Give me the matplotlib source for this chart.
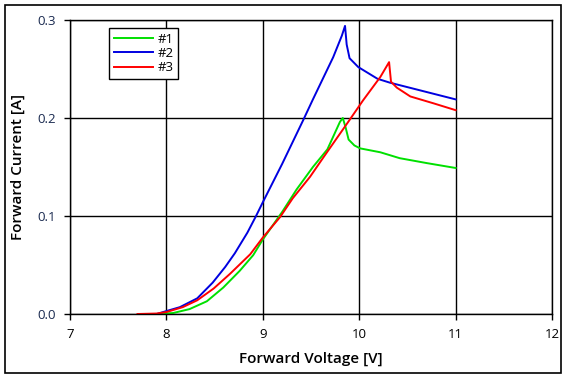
import matplotlib
matplotlib.use("Agg")
import matplotlib.pyplot as plt
from matplotlib.patches import Rectangle

plt.rcParams['font.family'] = ['Open Sans', 'DejaVu Sans']

# Series #1 (green)
v1 = [7.9, 8.07, 8.24, 8.42, 8.59, 8.76, 8.90, 9.0, 9.2, 9.35, 9.52, 9.67, 9.80, 9.83, 9.86, 9.89, 9.95, 10.01, 10.22, 10.42, 10.7, 11.0]
i1 = [0.0, 0.001, 0.005, 0.013, 0.027, 0.044, 0.060, 0.076, 0.104, 0.127, 0.150, 0.168, 0.196, 0.200, 0.190, 0.178, 0.172, 0.169, 0.165, 0.159, 0.154, 0.149]
# Series #2 (blue)
v2 = [7.9, 8.0, 8.14, 8.32, 8.48, 8.61, 8.71, 8.84, 8.93, 9.0, 9.2, 9.42, 9.52, 9.73, 9.82, 9.853, 9.87, 9.90, 9.99, 10.19, 10.32, 10.60, 11.0]
i2 = [0.0, 0.003, 0.007, 0.016, 0.032, 0.048, 0.062, 0.083, 0.100, 0.114, 0.153, 0.198, 0.219, 0.262, 0.284, 0.294, 0.275, 0.261, 0.252, 0.240, 0.236, 0.229, 0.219]
# Series #3 (red)
v3 = [7.7, 7.9, 8.0, 8.17, 8.32, 8.49, 8.66, 8.87, 9.0, 9.18, 9.31, 9.49, 9.63, 9.90, 10.04, 10.22, 10.31, 10.33, 10.39, 10.53, 10.77, 11.0]
i3 = [0.0, 0.0005, 0.002, 0.007, 0.014, 0.026, 0.041, 0.061, 0.078, 0.099, 0.118, 0.140, 0.160, 0.198, 0.218, 0.242, 0.257, 0.237, 0.231, 0.222, 0.215, 0.208]

labels = ['#1', '#2', '#3']
colors = ['#00e000', '#0000e0', '#ff0000']

xticks = [7, 8, 9, 10, 11, 12]
yticks = [0.0, 0.1, 0.2, 0.3]

fig = plt.figure(figsize=(5.68, 3.8), dpi=100)
ax = fig.add_axes([70/568, 1-314/380, (552-70)/568, (314-20)/380])

for v, i, lab, c in zip([v1, v2, v3], [i1, i2, i3], labels, colors):
    ax.plot(v, i, color=c, lw=1.4, label=lab)

ax.set_xlim(7, 12)
ax.set_ylim(0, 0.3)
ax.set_xticks(xticks)
ax.set_xticklabels([str(t) for t in xticks])
ax.set_yticks(yticks)
ax.set_yticklabels([f"{t:.1f}" for t in yticks])
ax.grid(True, color='black', lw=1)
ax.set_axisbelow(True)
for s in ax.spines.values():
    s.set_color('black')
    s.set_linewidth(1)
ax.tick_params(direction='out', length=4, width=1, labelsize=9.5, colors='black', pad=6)
for t in ax.get_yticklabels():
    t.set_color('#1a2a50')

ax.set_xlabel('Forward Voltage [V]', fontsize=11, fontweight='semibold', labelpad=8)
ax.set_ylabel('Forward Current [A]', fontsize=11, fontweight='semibold', labelpad=9)

leg = ax.legend(loc='upper left', bbox_to_anchor=((109-70)/482, 1-(28-20)/294),
                frameon=True, fancybox=False, edgecolor='black', framealpha=1,
                fontsize=9.5, handlelength=3.0, handletextpad=0.3, labelspacing=0.1,
                borderpad=0.35, borderaxespad=0)
leg.get_frame().set_linewidth(1)
leg.set_zorder(10)

fig.patches.append(Rectangle((5/568, 1-373/380), (561-5)/568, (373-5)/380,
                             transform=fig.transFigure, fill=False, edgecolor='black', lw=1.2))

fig.savefig('out.png', dpi=100)
